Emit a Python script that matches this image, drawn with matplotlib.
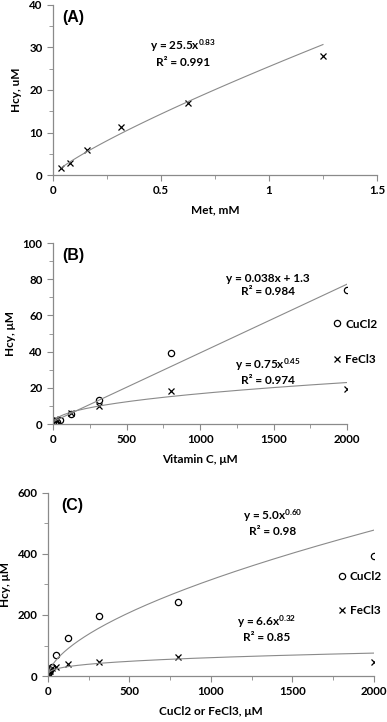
import numpy as np
import matplotlib
matplotlib.use("Agg")
import matplotlib.pyplot as plt
from matplotlib.ticker import MultipleLocator

plt.rcParams['font.family'] = ['Lato', 'DejaVu Sans']
plt.rcParams['font.weight'] = 'bold'
plt.rcParams['mathtext.fontset'] = 'custom'
plt.rcParams['mathtext.rm'] = 'Lato:bold'
plt.rcParams['mathtext.it'] = 'Lato:bold'
plt.rcParams['mathtext.bf'] = 'Lato:bold'
plt.rcParams['mathtext.default'] = 'rm'

# panel A - Met
met_x = [0.039, 0.078, 0.156, 0.3125, 0.625, 1.25]
met_hcy = [1.6, 2.8, 6.0, 11.2, 17.0, 28.0]
met_fit = (25.5, 0.83)

# panel B - vitamin C
vitc_cu_x = [0, 12.5, 25, 50, 125, 312.5, 800, 2000]
vitc_cu_y = [0.5, 0.3, 1.0, 2.0, 5.5, 13.0, 39.0, 74.0]
vitc_fe_x = [12.5, 25, 125, 312.5, 800, 2000]
vitc_fe_y = [3.0, 2.0, 6.0, 10.0, 18.0, 19.5]
vitc_cu_fit = (0.038, 1.3)   # linear
vitc_fe_fit = (0.75, 0.45)   # power

# panel C - metal salts
salt_cu_x = [3, 6, 12.5, 25, 50, 125, 312.5, 800, 2000]
salt_cu_y = [6, 12, 20, 30, 68, 124, 198, 242, 392]
salt_fe_x = [3, 6, 12.5, 25, 50, 125, 312.5, 800, 2000]
salt_fe_y = [5, 8, 15, 25, 30, 40, 45, 63, 45]
salt_cu_fit = (5.0, 0.60)
salt_fe_fit = (6.6, 0.32)

grey = '#8a8a8a'
tsize = 8.3
lsize = 8.5
asize = 8.5

fig = plt.figure(figsize=(3.87, 7.22), dpi=100)


def style(ax):
    for s in ['top', 'right']:
        ax.spines[s].set_visible(False)
    for s in ['left', 'bottom']:
        ax.spines[s].set_color(grey)
        ax.spines[s].set_linewidth(0.9)
    ax.tick_params(which='both', direction='out', color=grey, labelsize=tsize)
    ax.tick_params(which='major', length=4)
    ax.tick_params(which='minor', length=3)
    for lab in ax.get_xticklabels() + ax.get_yticklabels():
        lab.set_fontweight('bold')


# ---- (A)
ax1 = fig.add_axes([0.137, 0.7576, 0.837, 0.2355])
ax1.plot(met_x, met_hcy, 'x', color='black', ms=5, mew=0.9)
xs = np.linspace(met_x[0], met_x[-1], 100)
ax1.plot(xs, met_fit[0] * xs ** met_fit[1], color=grey, lw=0.8)
ax1.set_xlim(0, 1.5)
ax1.set_ylim(0, 40)
ax1.xaxis.set_major_locator(MultipleLocator(0.5))
ax1.xaxis.set_minor_locator(MultipleLocator(0.25))
ax1.yaxis.set_major_locator(MultipleLocator(10))
ax1.yaxis.set_minor_locator(MultipleLocator(5))
ax1.set_xticks([0, 0.5, 1, 1.5], ['0', '0.5', '1', '1.5'])
ax1.set_xlabel('Met, mM', fontsize=lsize, fontweight='bold', labelpad=6)
ax1.set_ylabel('Hcy, uM', fontsize=lsize, fontweight='bold', labelpad=5)
ax1.text(0.03, 0.97, '(A)', transform=ax1.transAxes, fontsize=11.5,
         fontweight='bold', family='Liberation Sans', va='top')
ax1.text(0.40, 0.72, 'y = 25.5x$^{0.83}$\nR² = 0.991', transform=ax1.transAxes,
         fontsize=asize, ha='center', va='center', linespacing=1.25)
style(ax1)

# ---- (B)
ax2 = fig.add_axes([0.137, 0.4127, 0.760, 0.2507])
ax2.plot(vitc_cu_x, vitc_cu_y, 'o', mfc='none', mec='black', ms=4.5, mew=0.9,
         label='CuCl2')
ax2.plot(vitc_fe_x, vitc_fe_y, 'x', color='black', ms=4.5, mew=0.9,
         label='FeCl3')
xs = np.linspace(0, 2000, 200)
ax2.plot(xs, vitc_cu_fit[0] * xs + vitc_cu_fit[1], color=grey, lw=0.8)
xs = np.linspace(12.5, 2000, 200)
ax2.plot(xs, vitc_fe_fit[0] * xs ** vitc_fe_fit[1], color=grey, lw=0.8)
ax2.set_xlim(0, 2000)
ax2.set_ylim(0, 100)
ax2.xaxis.set_major_locator(MultipleLocator(500))
ax2.xaxis.set_minor_locator(MultipleLocator(250))
ax2.yaxis.set_major_locator(MultipleLocator(20))
ax2.yaxis.set_minor_locator(MultipleLocator(10))
ax2.set_xlabel('Vitamin C, μM', fontsize=lsize, fontweight='bold', labelpad=6)
ax2.set_ylabel('Hcy, μM', fontsize=lsize, fontweight='bold', labelpad=5)
ax2.text(0.03, 0.97, '(B)', transform=ax2.transAxes, fontsize=11.5,
         fontweight='bold', family='Liberation Sans', va='top')
ax2.text(0.73, 0.77, 'y = 0.038x + 1.3\nR² = 0.984', transform=ax2.transAxes,
         fontsize=asize, ha='center', va='center', linespacing=1.25)
ax2.text(0.73, 0.29, 'y = 0.75x$^{0.45}$\nR² = 0.974', transform=ax2.transAxes,
         fontsize=asize, ha='center', va='center', linespacing=1.25)
ax2.legend(loc='center left', bbox_to_anchor=(0.925, 0.455), frameon=False,
           fontsize=lsize, handletextpad=0.1, labelspacing=2.05, handlelength=1.2,
           borderaxespad=0)
style(ax2)

# ---- (C)
ax3 = fig.add_axes([0.124, 0.0637, 0.842, 0.2535])
ax3.plot(salt_cu_x, salt_cu_y, 'o', mfc='none', mec='black', ms=4.5, mew=0.9,
         label='CuCl2')
ax3.plot(salt_fe_x, salt_fe_y, 'x', color='black', ms=4.5, mew=0.9,
         label='FeCl3')
xs = np.linspace(1, 2000, 400)
ax3.plot(xs, salt_cu_fit[0] * xs ** salt_cu_fit[1], color=grey, lw=0.8)
ax3.plot(xs, salt_fe_fit[0] * xs ** salt_fe_fit[1], color=grey, lw=0.8)
ax3.set_xlim(0, 2000)
ax3.set_ylim(0, 600)
ax3.xaxis.set_major_locator(MultipleLocator(500))
ax3.xaxis.set_minor_locator(MultipleLocator(250))
ax3.yaxis.set_major_locator(MultipleLocator(200))
ax3.yaxis.set_minor_locator(MultipleLocator(100))
ax3.set_xlabel('CuCl2 or FeCl3, μM', fontsize=lsize, fontweight='bold', labelpad=6)
ax3.set_ylabel('Hcy, μM', fontsize=lsize, fontweight='bold', labelpad=5)
ax3.text(0.04, 0.97, '(C)', transform=ax3.transAxes, fontsize=11.5,
         fontweight='bold', family='Liberation Sans', va='top')
ax3.text(0.69, 0.84, 'y = 5.0x$^{0.60}$\nR² = 0.98', transform=ax3.transAxes,
         fontsize=asize, ha='center', va='center', linespacing=1.25)
ax3.text(0.67, 0.26, 'y = 6.6x$^{0.32}$\nR² = 0.85', transform=ax3.transAxes,
         fontsize=asize, ha='center', va='center', linespacing=1.25)
ax3.legend(loc='center left', bbox_to_anchor=(0.865, 0.45), frameon=False,
           fontsize=lsize, handletextpad=0.1, labelspacing=2.0, handlelength=1.2,
           borderaxespad=0)
style(ax3)

fig.savefig('out.png', dpi=100)
